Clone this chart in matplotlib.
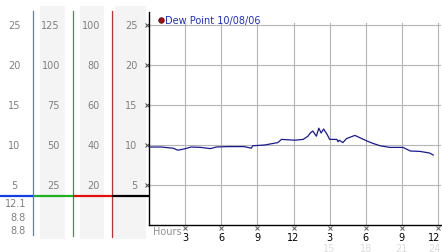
import matplotlib
matplotlib.use("Agg")
import matplotlib.pyplot as plt
import numpy as np

# ---- data ----
hours = [0.0, 1.0, 2.0, 2.4, 2.9, 3.5, 4.3, 5.1, 5.6, 6.5, 7.9, 8.5, 8.6, 9.6,
         10.7, 11.0, 12.1, 12.8, 13.2, 13.4, 13.6, 13.9, 14.1, 14.3, 14.5, 14.8,
         15.0, 15.6, 15.7, 15.8, 15.9, 16.1, 16.4, 17.1, 18.1, 18.6, 19.2,
         20.0, 21.1, 21.7, 22.5, 23.3, 23.6]
dew = [9.75, 9.75, 9.6, 9.35, 9.5, 9.75, 9.7, 9.55, 9.75, 9.8, 9.8, 9.6, 9.9, 10.0,
       10.3, 10.7, 10.6, 10.7, 11.1, 11.5, 11.75, 11.1, 12.1, 11.5, 12.0, 11.3,
       10.7, 10.7, 10.4, 10.6, 10.5, 10.3, 10.8, 11.2, 10.5, 10.2, 9.9,
       9.7, 9.7, 9.25, 9.2, 9.0, 8.75]

col1_labels = ["25", "20", "15", "10", "5"]
col2_labels = ["125", "100", "75", "50", "25"]
col3_labels = ["100", "80", "60", "40", "20"]
col4_labels = ["25", "20", "15", "10", "5"]
label_levels = [25, 20, 15, 10, 5]
stat_labels = ["12.1", "8.8", "8.8"]
x_ticks = [3, 6, 9, 12, 15, 18, 21, 24]
x_tick_labels = ["3", "6", "9", "12", "3", "6", "9", "12"]
x_tick_labels2 = ["15", "18", "21", "24"]
legend_text = "Dew Point 10/08/06"

W, H = 442, 253
fig = plt.figure(figsize=(W / 100, H / 100), dpi=100)

def v(y):  # pixel y -> value
    return 10 + (146 - y) / 8.0

# left panel axes in pixel-x / value-y coordinates
axl = fig.add_axes([0, 0, 149 / W, 1])
axl.set_xlim(0, 149)
axl.set_ylim(v(253), v(0))
axl.axis("off")

band_color = "#f4f4f4"
for x0, x1 in [(40, 65), (80, 104), (115, 146)]:
    axl.fill_between([x0, x1], v(240), v(7), color=band_color, lw=0, zorder=0)

lab_color = "#808080"
fs = 7
for lv, a, b, c, d in zip(label_levels, col1_labels, col2_labels, col3_labels, col4_labels):
    axl.text(14.5, lv, a, ha="center", va="center", fontsize=fs, color=lab_color)
    axl.text(60, lv, b, ha="right", va="center", fontsize=fs, color=lab_color)
    axl.text(100, lv, c, ha="right", va="center", fontsize=fs, color=lab_color)
    axl.text(137.5, lv, d, ha="right", va="center", fontsize=fs, color=lab_color)

for yy, s in zip([204, 218, 231], stat_labels):
    axl.text(26, v(yy), s, ha="right", va="center", fontsize=fs, color=lab_color)

# vertical coloured lines
axl.plot([33, 33], [v(12), v(236)], color="#3090d0", lw=0.9)
axl.plot([72.5, 72.5], [v(12), v(237)], color="#30a030", lw=0.9)
axl.plot([111.5, 111.5], [v(12), v(238)], color="#c03030", lw=0.9)

# horizontal coloured lines
hy = v(197)
axl.plot([0, 33], [hy, hy], color="#1040e0", lw=1.6, solid_capstyle="butt")
axl.plot([33, 72.5], [hy, hy], color="#20b020", lw=1.6, solid_capstyle="butt")
axl.plot([72.5, 111.5], [hy, hy], color="#e01010", lw=1.6, solid_capstyle="butt")
axl.plot([111.5, 149], [hy, hy], color="black", lw=1.6, solid_capstyle="butt")

# main axes
left, right, top, bottom = 149, 441, 13, 226
ax = fig.add_axes([left / W, 1 - bottom / H, (right - left) / W, (bottom - top) / H])
xmax = 24 * (right - left) / (438 - 149)
ax.set_xlim(0, xmax)
ax.set_ylim(0, v(top))
ax.patch.set_alpha(0)
for s in ["top", "right"]:
    ax.spines[s].set_visible(False)
for s in ["left", "bottom"]:
    ax.spines[s].set_color("black")
    ax.spines[s].set_linewidth(1.0)
ax.set_xticks([])
ax.set_yticks([])

grid_c = "#b4b4b4"
for lv in label_levels:
    ax.axhline(lv, color=grid_c, lw=0.8, zorder=1)
ymax_frac = 25.2 / v(top)
for xt in x_ticks:
    ax.axvline(xt, ymin=0, ymax=ymax_frac, color=grid_c, lw=0.8, zorder=1)

ax.plot(hours, dew, color="#1a1a90", lw=0.9, zorder=3)

# small x tick glyphs on left axis
for lv in label_levels:
    ax.plot([-0.2], [lv], marker="x", ms=2.2, mew=0.7, color="#404040", clip_on=False)
# bottom ticks glyphs and labels
for i, (xt, lab) in enumerate(zip(x_ticks, x_tick_labels)):
    ax.plot([xt], [v(229)], marker="x", ms=2.2, mew=0.7, color="#606060", clip_on=False)
    if i == len(x_ticks) - 1:
        ax.text(xmax - 0.05, v(238.5), lab, ha="right", va="center", fontsize=fs,
                color="black", clip_on=False)
    else:
        ax.text(xt, v(238.5), lab, ha="center", va="center", fontsize=fs,
                color="black", clip_on=False)
for i, (xt, lab) in enumerate(zip(x_ticks[4:], x_tick_labels2)):
    if i == len(x_tick_labels2) - 1:
        ax.text(xmax - 0.05, v(249.5), lab, ha="right", va="center", fontsize=fs,
                color="#dcdcdc", clip_on=False)
    else:
        ax.text(xt, v(249.5), lab, ha="center", va="center", fontsize=fs,
                color="#dcdcdc", clip_on=False)
ax.text(0.35, v(232), "Hours", ha="left", va="center", fontsize=fs, color="#909090", clip_on=False)

# legend
ax.plot([(161 - 149) / 12.04], [v(21)], marker="o", ms=4, color="#a01010", mec="#500000", mew=0.5, clip_on=False)
ax.text((165 - 149) / 12.04, v(21), legend_text, ha="left", va="center", fontsize=fs, color="#2030c0", clip_on=False)

fig.savefig("out.png", dpi=100)
